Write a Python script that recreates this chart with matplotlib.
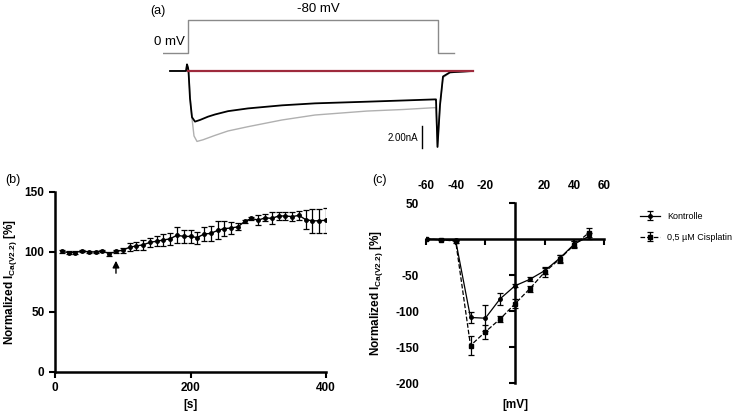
import numpy as np
import matplotlib
matplotlib.use('Agg')
from matplotlib import pyplot as plt

plt.rcParams['font.family'] = ['Liberation Sans', 'DejaVu Sans']
plt.rcParams['mathtext.fontset'] = 'custom'
plt.rcParams['mathtext.rm'] = 'Liberation Sans'
plt.rcParams['mathtext.bf'] = 'Liberation Sans:bold'
plt.rcParams['axes.unicode_minus'] = False

# (a) Spannungsprotokoll und Stromspuren
t_prot = [-25, 0, 0, 250, 250, 266]
v_prot = [0, 0, -80, -80, 0, 0]

t_kontrolle = [-18, -2, -1, 0, 0.5, 2, 4, 7, 12, 20, 27, 40, 60, 94, 127, 179, 215, 247, 248, 249.5, 252, 255, 262, 285]
i_kontrolle = [0, 0, 0.6, 0.3, 0, -2.5, -4.2, -4.6, -4.45, -4.15, -3.95, -3.65, -3.4, -3.12, -2.94, -2.79, -2.68, -2.58, -2.58, -6.9, -3.1, -0.5, -0.12, 0]
t_cisplatin = [-18, -2, -1, 0, 0.5, 3, 6, 9, 15, 27, 40, 60, 94, 127, 179, 215, 247, 248, 249.5, 252, 255, 262, 285]
i_cisplatin = [0, 0, 0.6, 0.3, 0, -3.5, -5.9, -6.4, -6.25, -5.85, -5.45, -5.06, -4.45, -4.0, -3.64, -3.5, -3.33, -3.33, -6.9, -3.1, -0.6, -0.15, 0]
t_basis = [0, 285]
i_basis = [0, 0]

# (b) Zeitverlauf
zeit = [10, 20, 30, 40, 50, 60, 70, 80, 90, 100, 110, 120, 130, 140, 150, 160, 170, 180, 190, 200,
        210, 220, 230, 240, 250, 260, 270, 280, 290, 300, 310, 320, 330, 340, 350, 360, 370, 380, 390, 400]
strom = [100.5, 99.5, 99.5, 101, 100, 100, 101, 98.5, 100.5, 101.5, 104, 105, 106, 108, 109, 110, 111, 114, 113, 113,
         112, 115, 115.5, 118, 119.5, 120, 121, 125.5, 128, 126.5, 128.5, 128, 130, 130, 129.5, 130.5, 127, 126, 126, 126.5]
strom_err = [1.5, 1, 1, 1, 1, 1, 1, 1.5, 1, 2, 3.5, 3.5, 4, 4, 4, 5, 5, 6.5, 5.5, 5.5,
             5, 6, 6, 7.5, 6.5, 5, 3, 1, 1, 4, 3, 5, 3, 3, 4, 3.5, 8, 10, 10, 10.5]

# (c) Strom-Spannungs-Kurve
mv = [-60, -50, -40, -30, -20, -10, 0, 10, 20, 30, 40, 50]
kontrolle = [0, -1, -2, -109, -110, -83, -65, -56, -44, -27, -7, 4]
kontrolle_err = [1, 1, 1, 8, 18, 8, 2, 3, 4, 5, 4, 4]
cisplatin = [0, -1, -3, -148, -129, -111, -90, -69, -46, -28, -8, 9]
cisplatin_err = [2, 1, 2, 13, 10, 4, 6, 4, 7, 6, 5, 6]

fig = plt.figure(figsize=(7.42, 4.12), dpi=100)

# Panel (a)
ax_v = fig.add_axes([163/742, 1-60/412, 325/742, 50/412])
ax_v.plot(t_prot, v_prot, color='#8a8a8a', lw=1)
ax_v.set_xlim(-25, 300)
ax_v.set_ylim(17, -104)
ax_v.axis('off')
ax_v.text(130, -107, '-80 mV', ha='center', va='center', fontsize=9.5, clip_on=False)
ax_v.text(-3, -27, '0 mV', ha='right', va='center', fontsize=9.5, clip_on=False)

ax_i = fig.add_axes([163/742, 1-152/412, 325/742, 94/412])
ax_i.plot(t_cisplatin, i_cisplatin, color='#b0b0b0', lw=1)
ax_i.plot(t_kontrolle, i_kontrolle, color='black', lw=1.3)
ax_i.plot(t_basis, i_basis, color='#9e2a3c', lw=1.6)
ax_i.plot([234, 234], [-5.0, -7.0], color='black', lw=1)
ax_i.text(230, -6.1, '2.00nA', ha='right', va='center', fontsize=7)
ax_i.set_xlim(-25, 300)
ax_i.set_ylim(-7.36, 1.18)
ax_i.axis('off')

fig.text(150/742, 1-11/412, '(a)', fontsize=9, ha='left', va='center')
fig.text(5/742, 1-180/412, '(b)', fontsize=9, ha='left', va='center')
fig.text(372/742, 1-180/412, '(c)', fontsize=9, ha='left', va='center')

ylabel = r'Normalized I$_{\mathbf{Ca(V2.2)}}$ [%]'

# Panel (b)
ax_b = fig.add_axes([55/742, 1-372/412, 271/742, 180/412])
ax_b.errorbar(zeit, strom, yerr=strom_err, color='black', lw=1, marker='o', ms=2.5,
              capsize=2.5, elinewidth=0.9, capthick=0.9)
ax_b.annotate('', xy=(90, 95), xytext=(90, 80),
              arrowprops=dict(arrowstyle='-|>', color='black', lw=1, mutation_scale=10))
ax_b.set_xlim(0, 400)
ax_b.set_ylim(0, 150)
ax_b.set_xticks([0, 200, 400])
ax_b.set_yticks([0, 50, 100, 150])
ax_b.spines['top'].set_visible(False)
ax_b.spines['right'].set_visible(False)
for s in ['left', 'bottom']:
    ax_b.spines[s].set_linewidth(1.8)
ax_b.tick_params(width=1.5, length=4, labelsize=8.5)
for lab in ax_b.get_xticklabels() + ax_b.get_yticklabels():
    lab.set_fontweight('bold')
ax_b.set_xlabel('[s]', fontsize=8.5, fontweight='bold', labelpad=3)
ax_b.set_ylabel(ylabel, fontsize=8.5, fontweight='bold', labelpad=4)

# Panel (c)
ax_c = fig.add_axes([426/742, 1-383/412, 178/742, 180/412])
ax_c.errorbar(mv, kontrolle, yerr=kontrolle_err, color='black', lw=0.9, marker='o', ms=2.5,
              capsize=2, elinewidth=0.9, capthick=0.9, label='Kontrolle')
ax_c.errorbar(mv, cisplatin, yerr=cisplatin_err, color='black', lw=0.9, ls='--', marker='s', ms=2.5,
              capsize=2, elinewidth=0.9, capthick=0.9, label='0,5 µM Cisplatin')
ax_c.set_xlim(-60, 60)
ax_c.set_ylim(-200, 50)
ax_c.set_xticks([-60, -40, -20, 20, 40, 60])
ax_c.set_yticks([50, -50, -100, -150, -200])
ax_c.spines['top'].set_visible(False)
ax_c.spines['left'].set_visible(False)
ax_c.spines['bottom'].set_position(('data', 0))
ax_c.spines['right'].set_position(('data', 0))
ax_c.spines['bottom'].set_linewidth(1.8)
ax_c.spines['right'].set_linewidth(1.8)
ax_c.tick_params(axis='x', bottom=True, top=False, labelbottom=False, labeltop=True,
                 width=1.5, length=4, labelsize=8.5, pad=4)
ax_c.tick_params(axis='y', left=False, right=True, labelleft=True, labelright=False,
                 direction='in', width=1.5, length=4, labelsize=8.5, pad=5)
for lab in ax_c.get_xticklabels() + ax_c.get_yticklabels():
    lab.set_fontweight('bold')
ax_c.set_xlabel('[mV]', fontsize=8.5, fontweight='bold')
ax_c.xaxis.set_label_coords(0.5, -0.09)
ax_c.set_ylabel(ylabel, fontsize=8.5, fontweight='bold', labelpad=7)

fig.legend(loc='upper left', bbox_to_anchor=(632/742, 1-204/412), frameon=False,
           fontsize=6.5, labelspacing=1.3, handlelength=2.2)

plt.savefig('out.png', dpi=100)
